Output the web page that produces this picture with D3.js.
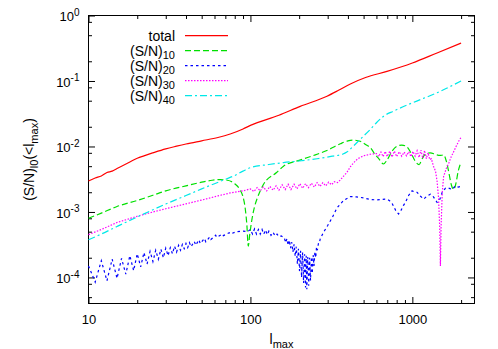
<!DOCTYPE html>
<html>
<head>
<meta charset="utf-8">
<script src="https://cdn.jsdelivr.net/npm/d3@7"></script>
<style>
  body { margin: 0; background: #fff; }
  svg { font-family: 'Liberation Sans', Arial, sans-serif; }
</style>
</head>
<body>
<div id="chart"></div>
<script>
// values: [l_max, S/N]
const total = [
  [10, 2.97e-3], [11, 3.3e-3], [12, 3.55e-3], [13, 4.0e-3], [14, 4.2e-3], [15, 4.6e-3],
  [16, 5.0e-3], [18, 5.8e-3], [20, 6.6e-3], [22, 7.2e-3], [25, 8.0e-3], [30, 9.2e-3],
  [35, 1.01e-2], [40, 1.09e-2], [50, 1.22e-2], [63, 1.37e-2], [75, 1.55e-2], [90, 1.85e-2],
  [100, 2.1e-2], [150, 3.0e-2], [203, 4.1e-2], [297, 5.85e-2], [350, 7.2e-2], [414, 9.0e-2],
  [514, 1.13e-1], [697, 1.4e-1], [1000, 1.88e-1], [1421, 2.68e-1], [2000, 3.8e-1]
]

const sn10 = [
  [10, 8.0e-4], [12, 9.6e-4], [15, 1.21e-3], [20, 1.5e-3], [25, 1.8e-3], [30, 2.1e-3],
  [40, 2.5e-3], [50, 2.85e-3], [58, 3.05e-3], [65, 3.12e-3], [72, 3.05e-3], [80, 2.7e-3],
  [86, 2.2e-3], [90, 1.7e-3], [93, 1.1e-3], [95, 6.5e-4], [97, 3.0e-4], [99, 4.5e-4],
  [102, 7.5e-4], [106, 1.2e-3], [110, 1.6e-3], [120, 2.6e-3], [145, 4.0e-3], [160, 5.0e-3],
  [202, 6.2e-3], [258, 7.6e-3], [300, 8.8e-3], [359, 1.1e-2], [400, 1.22e-2], [430, 1.25e-2],
  [477, 1.2e-2], [520, 1.05e-2], [550, 9.6e-3], [590, 7.5e-3], [620, 6.5e-3], [663, 5.4e-3],
  [700, 6.3e-3], [750, 8.5e-3], [800, 1.0e-2], [860, 1.05e-2], [920, 1.0e-2], [980, 8.0e-3],
  [1040, 6.0e-3], [1100, 5.3e-3], [1150, 6.5e-3], [1200, 7.6e-3], [1290, 8.0e-3], [1400, 7.5e-3],
  [1480, 7.3e-3], [1560, 7.4e-3], [1620, 6.0e-3], [1680, 4.0e-3], [1740, 2.6e-3], [1800, 2.2e-3],
  [1850, 2.6e-3], [1920, 4.2e-3], [2000, 5.8e-3]
]

const sn20 = [
  [10, 1.5e-4], [11, 8.5e-5], [12, 1.8e-4], [13, 8.9e-5], [14, 1.9e-4], [15, 9.7e-5],
  [16, 1.95e-4], [17, 1.12e-4], [18, 2.15e-4], [19, 1.27e-4], [20, 2.3e-4], [21, 1.45e-4],
  [22, 2.4e-4], [23, 1.6e-4], [24, 2.5e-4], [25, 1.75e-4], [26, 2.6e-4], [27, 1.9e-4],
  [28, 2.7e-4], [29, 2.0e-4], [30, 2.8e-4], [31, 2.15e-4], [32, 2.85e-4], [33, 2.3e-4],
  [34, 3.0e-4], [35, 2.45e-4], [36, 3.1e-4], [37, 2.6e-4], [38, 3.2e-4], [39, 2.75e-4],
  [40, 3.3e-4], [41, 2.85e-4], [42, 3.4e-4], [43, 2.95e-4], [45, 3.55e-4], [46, 3.1e-4],
  [48, 3.75e-4], [49, 3.3e-4], [52, 3.95e-4], [53, 3.5e-4], [56, 4.15e-4], [57, 3.8e-4],
  [61, 4.4e-4], [62, 4.1e-4], [67, 4.6e-4], [68, 4.35e-4], [74, 4.8e-4], [75, 4.6e-4],
  [82, 5.0e-4], [90, 5.1e-4], [96, 5.0e-4],
  [100, 5.4e-4], [103, 4.6e-4], [106, 5.5e-4], [109, 4.6e-4], [112, 5.4e-4], [115, 4.6e-4],
  [118, 5.4e-4], [121, 4.6e-4], [124, 5.3e-4], [127, 4.5e-4], [130, 5.1e-4], [134, 4.4e-4],
  [138, 4.9e-4], [142, 4.3e-4], [146, 4.6e-4], [150, 4.2e-4], [155, 4.3e-4], [160, 4.1e-4],
  [162, 4.0e-4], [165, 3.4e-4], [168, 3.9e-4], [171, 3.1e-4], [174, 3.7e-4], [177, 2.8e-4],
  [180, 3.45e-4], [183, 2.45e-4], [186, 3.2e-4], [189, 2.1e-4], [192, 2.95e-4], [195, 1.6e-4],
  [198, 2.75e-4], [201, 1.25e-4], [204, 2.55e-4], [207, 1.0e-4], [210, 2.4e-4], [213, 8.2e-5],
  [216, 2.25e-4], [219, 7.0e-5], [221, 2.15e-4], [223, 6.6e-5], [226, 2.05e-4], [229, 7.5e-5],
  [232, 2.0e-4], [235, 9.0e-5], [238, 2.05e-4], [241, 1.15e-4], [244, 2.2e-4], [247, 1.5e-4],
  [250, 2.45e-4], [253, 2.0e-4], [256, 2.9e-4], [259, 2.6e-4], [263, 3.3e-4], [266, 3.3e-4],
  [270, 3.9e-4], [283, 4.9e-4], [300, 6.2e-4], [320, 8.2e-4], [342, 1.15e-3], [376, 1.5e-3],
  [414, 1.72e-3], [450, 1.7e-3], [500, 1.64e-3], [550, 1.55e-3], [600, 1.53e-3], [650, 1.55e-3],
  [690, 1.57e-3], [720, 1.5e-3], [750, 1.35e-3], [790, 1.05e-3], [822, 9.3e-4], [850, 1.05e-3],
  [880, 1.25e-3], [906, 1.4e-3], [950, 1.8e-3], [996, 2.1e-3], [1040, 2.0e-3], [1069, 2.0e-3],
  [1120, 1.75e-3], [1175, 1.57e-3], [1230, 1.75e-3], [1292, 1.87e-3], [1350, 1.7e-3], [1421, 1.4e-3],
  [1470, 1.5e-3], [1530, 2.0e-3], [1600, 2.3e-3], [1660, 2.35e-3], [1720, 2.25e-3], [1760, 2.2e-3],
  [1844, 2.5e-3], [1920, 2.4e-3], [2000, 2.45e-3]
]

const sn30 = [
  [10, 4.5e-4], [12, 5.4e-4], [15, 6.9e-4], [20, 8.6e-4], [25, 1.0e-3], [30, 1.12e-3],
  [40, 1.33e-3], [50, 1.52e-3], [63, 1.76e-3], [75, 1.95e-3], [90, 2.1e-3],
  [100, 2.25e-3], [105, 2.05e-3], [110, 2.35e-3], [115, 2.1e-3], [120, 2.4e-3], [126, 2.1e-3],
  [132, 2.45e-3], [138, 2.15e-3], [144, 2.5e-3], [150, 2.15e-3], [157, 2.6e-3], [164, 2.2e-3],
  [171, 2.65e-3], [178, 2.2e-3], [186, 2.65e-3], [194, 2.25e-3], [202, 2.7e-3], [210, 2.3e-3],
  [219, 2.7e-3], [228, 2.35e-3], [238, 2.75e-3], [248, 2.4e-3], [258, 2.8e-3], [269, 2.45e-3],
  [280, 2.8e-3], [292, 2.5e-3], [304, 2.85e-3], [317, 2.6e-3], [330, 2.9e-3], [345, 2.8e-3],
  [360, 3.1e-3], [375, 3.5e-3], [394, 4.0e-3], [414, 4.9e-3], [433, 5.6e-3], [460, 6.5e-3],
  [500, 7.2e-3], [550, 7.6e-3],
  [600, 7.8e-3], [620, 7.0e-3], [640, 8.2e-3], [660, 7.0e-3], [680, 8.4e-3], [700, 7.0e-3],
  [725, 8.5e-3], [750, 6.9e-3], [775, 8.5e-3], [800, 7.0e-3], [830, 8.3e-3], [860, 7.1e-3],
  [890, 8.2e-3], [920, 7.2e-3], [950, 8.3e-3], [980, 7.0e-3], [1010, 8.4e-3], [1040, 7.1e-3],
  [1070, 8.6e-3], [1100, 6.8e-3], [1130, 8.8e-3], [1160, 6.6e-3], [1190, 8.7e-3], [1220, 6.5e-3],
  [1250, 8.0e-3], [1280, 6.3e-3], [1310, 6.5e-3],
  [1350, 5.0e-3], [1390, 4.2e-3], [1420, 3.0e-3], [1450, 1.7e-3], [1475, 6e-4], [1490, 1.5e-4],
  [1505, 6e-4], [1530, 2e-3], [1560, 3.5e-3], [1620, 4.6e-3], [1680, 5.6e-3], [1740, 7.0e-3],
  [1807, 8.5e-3], [1880, 1.05e-2], [1950, 1.25e-2], [2000, 1.38e-2]
]

const sn40 = [
  [10, 3.76e-4], [12, 4.6e-4], [15, 6.0e-4], [20, 8.4e-4], [25, 1.08e-3], [30, 1.32e-3],
  [40, 1.78e-3], [50, 2.25e-3], [60, 2.7e-3], [70, 3.15e-3], [80, 3.6e-3], [90, 4.2e-3],
  [100, 4.75e-3], [130, 5.3e-3], [160, 5.67e-3], [200, 6.0e-3], [258, 6.5e-3], [320, 7.1e-3],
  [370, 7.6e-3], [394, 8.2e-3], [430, 1.0e-2], [477, 1.29e-2], [550, 1.82e-2], [600, 2.3e-2],
  [665, 2.9e-2], [766, 3.47e-2], [1000, 4.64e-2], [1421, 6.6e-2], [2000, 1.0e-1]
]

const xMajor = [10, 100, 1000]
const xMinor = [20, 30, 40, 50, 60, 70, 80, 90, 200, 300, 400, 500, 600, 700, 800, 900, 2000]
const yMajor = [1e-4, 1e-3, 1e-2, 1e-1, 1]
const yExp = ['-4', '-3', '-2', '-1', '0']
const yMinor = [5e-5, 8e-5, 2e-4, 5e-4, 8e-4, 2e-3, 5e-3, 8e-3, 2e-2, 5e-2, 8e-2, 2e-1, 5e-1, 8e-1]

const series = [
  { label: 'total', sub: '', data: total, color: '#ff0000', dash: null, smooth: true },
  { label: '(S/N)', sub: '10', data: sn10, color: '#00e000', dash: '6,3', smooth: true },
  { label: '(S/N)', sub: '20', data: sn20, color: '#0000ff', dash: '2.5,3', smooth: false },
  { label: '(S/N)', sub: '30', data: sn30, color: '#ff00ff', dash: '1.5,1.5', smooth: false },
  { label: '(S/N)', sub: '40', data: sn40, color: '#00e8e8', dash: '7,3,2,3', smooth: true }
]

const W = 498
const H = 349
const plotL = 88.5
const plotR = 474.5
const plotT = 15.5
const plotB = 303.5

const svg = d3.select('#chart').append('svg').attr('width', W).attr('height', H)

const x = d3.scaleLog().domain([10, 2420]).range([plotL, plotR])
const y = d3.scaleLog().domain([4e-5, 1]).range([plotB, plotT])

// ticks on all four sides, pointing inward
const tickAxis = (gen, tx, ty) => {
  const g = svg.append('g').attr('transform', `translate(${tx},${ty})`).call(gen)
  g.select('.domain').remove()
  g.selectAll('line').attr('stroke', '#000')
  return g
}
tickAxis(d3.axisBottom(x).tickValues(xMinor).tickSize(-3.5).tickFormat(''), 0, plotB)
tickAxis(d3.axisTop(x).tickValues(xMinor).tickSize(-3.5).tickFormat(''), 0, plotT)
tickAxis(d3.axisTop(x).tickValues(xMajor).tickSize(-6.5).tickFormat(''), 0, plotT)
tickAxis(d3.axisLeft(y).tickValues(yMinor).tickSize(-3.5).tickFormat(''), plotL, 0)
tickAxis(d3.axisRight(y).tickValues(yMinor).tickSize(-3.5).tickFormat(''), plotR, 0)
tickAxis(d3.axisRight(y).tickValues(yMajor).tickSize(-6.5).tickFormat(''), plotR, 0)

const xAx = tickAxis(d3.axisBottom(x).tickValues(xMajor).tickSize(-6.5).tickPadding(11).tickFormat(d3.format('d')), 0, plotB)
xAx.attr('font-family', null).attr('font-size', 13)
xAx.selectAll('text').attr('fill', '#000')

const yAx = tickAxis(d3.axisLeft(y).tickValues(yMajor).tickSize(-6.5).tickPadding(9).tickFormat(''), plotL, 0)
yAx.attr('font-family', null).attr('font-size', 13)
yAx.selectAll('text')
  .attr('fill', '#000')
  .attr('dy', '0.42em')
  .each(function (d, i) {
    const t = d3.select(this)
    t.append('tspan').text('10')
    t.append('tspan').attr('font-size', 10).attr('dy', -5.5).text(yExp[i])
  })

svg.append('rect')
  .attr('x', plotL).attr('y', plotT)
  .attr('width', plotR - plotL).attr('height', plotB - plotT)
  .attr('fill', 'none').attr('stroke', '#000').attr('stroke-width', 1)

// curves
for (const s of series) {
  const line = d3.line()
    .x((d) => x(d[0]))
    .y((d) => y(d[1]))
    .curve(s.smooth ? d3.curveMonotoneX : d3.curveLinear)
  svg.append('path')
    .datum(s.data)
    .attr('d', line)
    .attr('fill', 'none')
    .attr('stroke', s.color)
    .attr('stroke-width', 1.2)
    .attr('stroke-dasharray', s.dash)
}

// legend
const legend = svg.append('g').attr('font-size', 14)
series.forEach((s, i) => {
  const ly = 35.7 + 15 * i
  const t = legend.append('text').attr('x', 175).attr('y', ly + 5).attr('text-anchor', 'end')
  t.append('tspan').text(s.label)
  if (s.sub) t.append('tspan').attr('font-size', 11).attr('dy', 3.5).text(s.sub)
  legend.append('line')
    .attr('x1', 185).attr('x2', 228).attr('y1', ly).attr('y2', ly)
    .attr('stroke', s.color).attr('stroke-width', 1.2)
    .attr('stroke-dasharray', s.dash)
})

// axis titles
const xt = svg.append('text')
  .attr('x', (plotL + plotR) / 2).attr('y', 344)
  .attr('text-anchor', 'middle').attr('font-size', 14)
xt.append('tspan').text('l')
xt.append('tspan').attr('font-size', 11).attr('dy', 3.5).text('max')

const yt = svg.append('text')
  .attr('transform', `translate(34, ${(plotT + plotB) / 2}) rotate(-90)`)
  .attr('text-anchor', 'middle').attr('font-size', 14)
yt.append('tspan').text('(S/N)')
yt.append('tspan').attr('font-size', 11).attr('dy', 3.5).text('l0')
yt.append('tspan').attr('dy', -3.5).text('(<l')
yt.append('tspan').attr('font-size', 11).attr('dy', 3.5).text('max')
yt.append('tspan').attr('dy', -3.5).text(')')
</script>
</body>
</html>
